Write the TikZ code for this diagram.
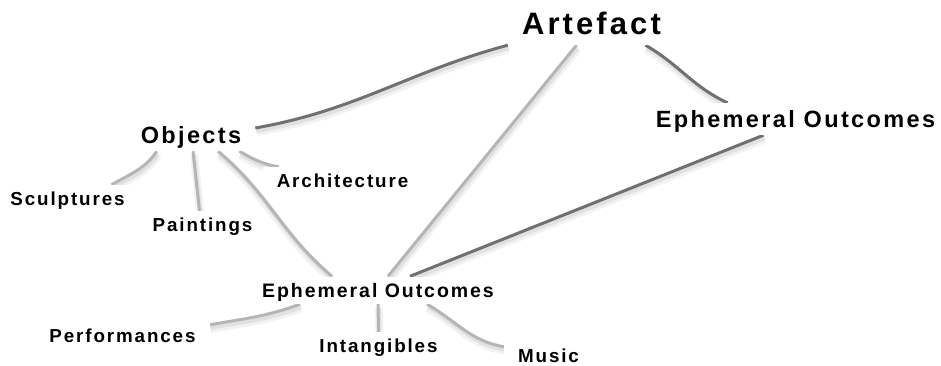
\documentclass[tikz,border=0pt]{standalone}
\usepackage{fontspec}
\newfontfamily\mapfont{Liberation Sans}[LetterSpace=10]
\usetikzlibrary{backgrounds}

\begin{document}
\begin{tikzpicture}[x=1pt, y=1pt]
\tikzstyle{topicStyle}=[fill=white, anchor=base, inner xsep=14pt, inner ysep=2pt]
\tikzstyle{rootStyle}=[topicStyle, font=\mapfont\bfseries\fontsize{31}{36}\selectfont, text height=29pt, text depth=8pt]
\tikzstyle{mainStyle}=[topicStyle, font=\mapfont\bfseries\fontsize{23.5}{28}\selectfont, text height=22pt, text depth=6pt]
\tikzstyle{subStyle}=[topicStyle, font=\mapfont\bfseries\fontsize{19.5}{23}\selectfont, text height=18.5pt, text depth=5pt]
\tikzstyle{leafStyle}=[topicStyle, font=\mapfont\bfseries\fontsize{18.8}{22}\selectfont, text height=18pt, text depth=5pt]
\tikzstyle{edgeShadow}=[preaction={draw=black, draw opacity=0.05, line width=8pt, transform canvas={shift={(1pt,-4pt)}}},
  preaction={draw=black, draw opacity=0.07, line width=4pt, transform canvas={shift={(1pt,-3pt)}}}]
\tikzstyle{darkEdge}=[draw=black!56, line width=3pt, edgeShadow]
\tikzstyle{lightEdge}=[draw=black!29, line width=3pt, edgeShadow]
\useasboundingbox (0,0) rectangle (941,365);

\node[rootStyle] (art) at (591.5,330) {Artefact};
\node[mainStyle] (obj) at (191,222) {Objects};
\node[mainStyle] (ephR) at (795.5,238) {Ephemeral Outcomes};
\node[leafStyle] (arch) at (342.5,178) {Architecture};
\node[leafStyle] (sculp) at (67.5,160) {Sculptures};
\node[leafStyle] (paint) at (202.5,134) {Paintings};
\node[subStyle] (ephL) at (378,68) {Ephemeral Outcomes};
\node[leafStyle] (perf) at (122.5,23) {Performances};
\node[leafStyle] (intang) at (378.5,13) {Intangibles};
\node[leafStyle] (music) at (548.5,3) {Music};

\begin{pgfonlayer}{background}
% branches off the root
\draw[darkEdge] ([yshift=7pt]obj.east) to[out=10, in=195] (art.south west);
\draw[darkEdge] ([xshift=54pt]art.south) to[out=-30, in=155] ([xshift=-68pt]ephR.north);
\draw[lightEdge] ([xshift=-15pt]art.south) -- ([xshift=10pt]ephL.north);
\draw[darkEdge] ([xshift=-32pt]ephR.south) -- ([xshift=32pt]ephL.north);
% objects
\draw[lightEdge] ([xshift=-34pt]obj.south) to[out=-125, in=30] ([xshift=44pt]sculp.north);
\draw[lightEdge] ([xshift=2pt]obj.south) -- ([xshift=-3pt]paint.north);
\draw[lightEdge] ([xshift=-16pt]obj.south east) to[out=-30, in=170] ([xshift=16pt]arch.north west);
\draw[lightEdge] ([xshift=27pt]obj.south) to[out=-40, in=140] ([xshift=-46pt]ephL.north);
% ephemeral outcomes
\draw[lightEdge] ([xshift=-78pt]ephL.south) to[out=200, in=10] ([yshift=-3pt]perf.north east);
\draw[lightEdge] (ephL.south) -- (intang.north);
\draw[lightEdge] ([xshift=49pt]ephL.south) to[out=-30, in=170] ([yshift=-5pt]music.north west);
\end{pgfonlayer}
\end{tikzpicture}
\end{document}
